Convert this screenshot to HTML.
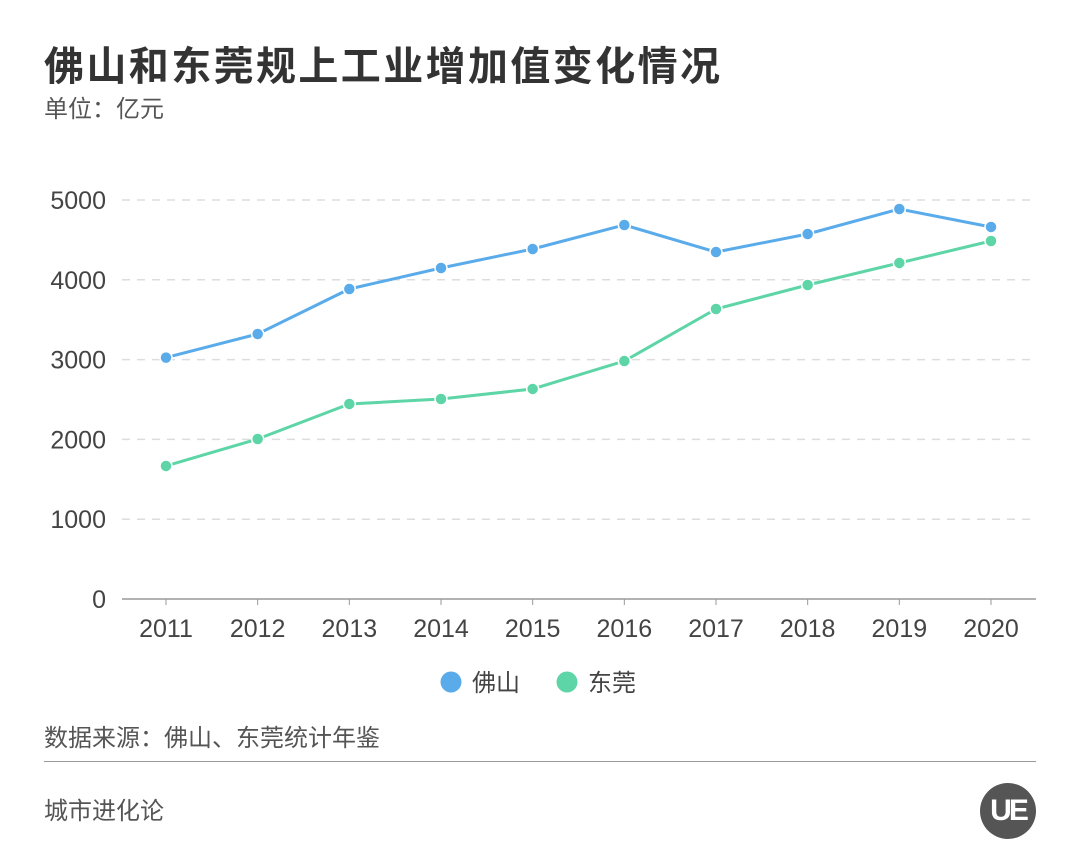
<!DOCTYPE html>
<html><head><meta charset="utf-8"><style>
body{margin:0;background:#fff;width:1080px;height:864px;overflow:hidden;font-family:"Liberation Sans","Noto Sans CJK SC",sans-serif;}
.t{position:absolute;margin:0;white-space:nowrap}
</style></head><body>
<div style="position:relative;width:1080px;height:864px">
<h1 class="t" style="left:44px;top:34px;font-size:40px;font-weight:bold;color:#333;letter-spacing:2.4px">佛山和东莞规上工业增加值变化情况</h1>
<div class="t" style="left:44px;top:89px;font-size:24px;color:#555">单位：亿元</div>
<svg id="chart" width="1080" height="720" style="position:absolute;left:0;top:0"></svg>
<div class="t" style="left:44px;top:718px;font-size:24px;color:#555">数据来源：佛山、东莞统计年鉴</div>
<div style="position:absolute;left:44px;top:761px;width:992px;height:1px;background:#999"></div>
<div class="t" style="left:44px;top:791px;font-size:24px;color:#555">城市进化论</div>
<div style="position:absolute;left:980px;top:783px;width:56px;height:56px;border-radius:50%;background:#555;color:#fff;font-size:30px;font-weight:bold;text-align:center;line-height:56px;letter-spacing:-3px">UE</div>
</div>
<script>
const years=["2011","2012","2013","2014","2015","2016","2017","2018","2019","2020"];
const foshan=[3025,3321,3885,4148,4386,4687,4348,4574,4887,4662];
const dongguan=[1667,2005,2444,2506,2632,2982,3634,3935,4211,4486];
const yTicks=[0,1000,2000,3000,4000,5000];
const NS="http://www.w3.org/2000/svg";
const svg=document.getElementById('chart');
const x=i=>166+i*(991-166)/(years.length-1);
const y=v=>599-v*(599-200)/5000;
function mk(t,a){const e=document.createElementNS(NS,t);for(const k in a)e.setAttribute(k,a[k]);svg.appendChild(e);return e;}
yTicks.forEach(v=>{
 if(v>0){const g=mk('line',{x1:122,x2:1036,y1:y(v),y2:y(v),stroke:'#ddd','stroke-dasharray':'8,7','stroke-width':1.5});
 
 }
 const t=mk('text',{x:106,y:y(v)+9,'text-anchor':'end','font-size':25,fill:'#444'});t.textContent=v;
 
 
});
const ax=mk('line',{x1:122,x2:1036,y1:599,y2:599,stroke:'#999','stroke-width':1.5});


years.forEach((yr,i)=>{
 const tk=mk('line',{x1:x(i),x2:x(i),y1:599,y2:605,stroke:'#999'});
 
 
 const t=mk('text',{x:x(i),y:637,'text-anchor':'middle','font-size':25,fill:'#444'});t.textContent=yr;
 
 
});
function series(vals,color,name){
 const p=mk('polyline',{points:vals.map((v,i)=>x(i)+','+y(v)).join(' '),fill:'none',stroke:color,'stroke-width':3});
 
 
 vals.forEach((v,i)=>{const c=mk('circle',{cx:x(i),cy:y(v),r:6,fill:color,stroke:'#fff','stroke-width':1.5});
 
 });
}
series(foshan,'#5aabea','foshan');
series(dongguan,'#5dd5a6','dongguan');
[[451,'#5aabea','佛山','legend-foshan'],[567,'#5dd5a6','东莞','legend-dongguan']].forEach(l=>{
 const c=mk('circle',{cx:l[0],cy:682,r:10.5,fill:l[1]});
 
 
 const t=mk('text',{x:l[0]+21,y:691,'font-size':24,fill:'#444'});t.textContent=l[2];
 
 
});
</script>
</body></html>
